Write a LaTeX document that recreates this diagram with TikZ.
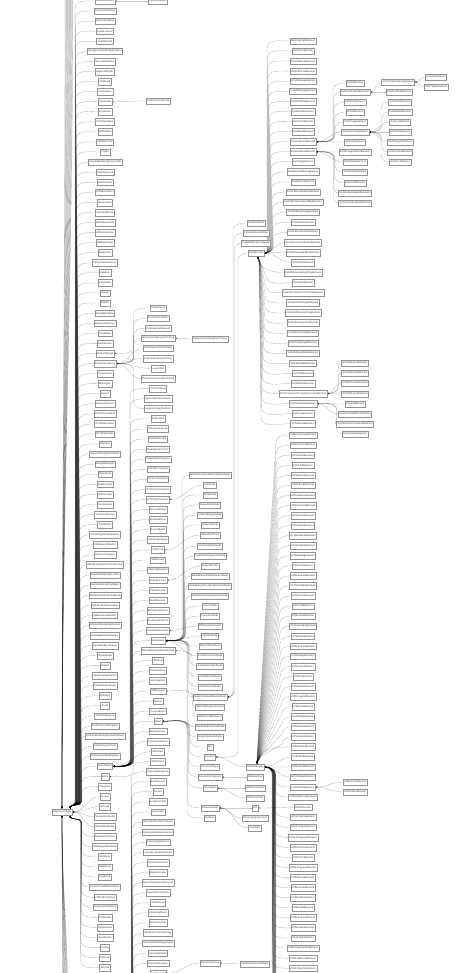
\documentclass[tikz,border=0pt]{standalone}
\usepackage{fontspec}
\setmainfont{Liberation Sans}
\usetikzlibrary{arrows.meta,calc}
\pgfdeclarelayer{back}\pgfdeclarelayer{bg}\pgfsetlayers{back,bg,main}
% edge: #1 child, #2 child y(px), #3 bend x, #4 end x, #5 target, #6 target y(px), #7 in-angle
\newcommand\edg[7]{%
  \pgfmathsetmacro\eddy{(#6)-(#2)}%
  \pgfmathsetmacro\edab{abs(\eddy)}%
  \ifdim\edab pt<18pt\relax
    \draw[ed] (#1.west) to[out=180,in=#7] (#5);%
  \else
    \ifdim\eddy pt>0pt\relax
      \draw[ed] (#1.west) to[out=180,in=90] (#3,{-(#2)-7}) -- (#4,{-(#6)+7}) to[out=-90,in=#7] (#5);%
    \else
      \draw[ed] (#1.west) to[out=180,in=-90] (#3,{-(#2)+7}) -- (#4,{-(#6)-7}) to[out=90,in=#7] (#5);%
    \fi
  \fi}
\begin{document}
\begin{tikzpicture}[x=1pt,y=1pt,
  nd/.style={draw=black!42, line width=0.35pt, fill=white, inner xsep=1pt, inner ysep=0pt,
    minimum height=6.6pt, text=black!78, font=\fontsize{2.5}{3}\selectfont},
  ed/.style={draw=black, draw opacity=0.3, line width=0.3pt, -{Stealth[length=2pt,width=1.6pt]}}]
\begin{pgfonlayer}{back}\fill[white] (0,0) rectangle (467,-973);\end{pgfonlayer}
\useasboundingbox (0,0) rectangle (467,-973);

% ---------- root ----------
\node[nd] (R) at (62,-812) {Object.prototype};
\coordinate (Rne) at ($(R.north east)+(-2,0)$);
\coordinate (Rse) at ($(R.south east)+(-2,0)$);

% ---------- column B ----------
\foreach \lab [count=\k from 0] in {AnimationEffect,AnimationTimeline,AudioParamMap,AudioListener,AudioWorklet,BackgroundFetchRegistration,BarcodeDetector,BluetoothUUID,Clipboard,CookieStore,Credential,CryptoKey,CSSStyleSheet,DOMMatrix,DOMRectList,Crypto,CanvasRenderingContext2D,DOMTokenList,DataTransfer,DOMException,Geolocation,GamepadPose,GPUAdapterInfo,HTMLCollection,IDBKeyRange,IDBFactory,IntersectionObserver,Headers,ImageData,History,Path2D,MediaMetadata,MutationObserver,NodeFilter,NodeIterator,AbstractRange,PerformanceEntry,Permissions,MimeType,Report,ResizeObserver,RTCIceCandidate,RTCRtpReceiver,RTCRtpSender,Selection,SpeechRecognitionResult,StorageManager,StyleSheet,SubtleCrypto,TextDecoder,TimeRanges,TransformStream,TreeWalker,TrustedTypePolicyFactory,URLSearchParams,VideoColorSpace,WebGLShaderPrecisionFormat,WebGLRenderingContext,WebGLVertexArrayObject,WebGLTransformFeedback,WebGLUniformLocation,WebGLRenderbuffer,WebGL2RenderingContext,ReadableStreamReader,ReadableByteStream,XPathResult,Worklet,SpeechGrammarList,SVGAnimatedAngle,SVGRect,Touch,TextTrackCueList,PerformanceNavigation,PerformanceLongAnimationFrame,PerformanceTiming,PerformanceMarkOptions,EventTarget,Event,Navigator,Screen,Storage,NavigatorUAData,NamedNodeMap,MediaKeySession,MediaKeyStatusMap,MediaList,MediaKeys,Keyboard,IntersectionObserverEntry,HTMLAllCollection,FileSystemFileEntry,FileReader,CSSRuleList,Coordinates,Cache,BarProp,Atomics}{%
  \pgfmathsetmacro\yy{1+10.07*\k}%
  \node[nd] (b\k) at (105,-\yy) {\lab};}
\node[nd] (kf) at (158,-1) {KeyframeEffect};
\node[nd] (pk) at (158,-101) {PublicKeyCredential};

% ---------- column C ----------
\foreach \lab [count=\j from 0] in {StaticRange,PerformanceMark,PerformanceMeasure,PerformanceResourceTiming,PerformancePaintTiming,PerformanceEventTiming,LayoutShift,PerformanceLongTaskTiming,TextTrackCue,SpeechSynthesisVoice,LargestContentfulPaint,Notification,OffscreenCanvas,MediaRecorder,MediaStreamTrack,PresentationRequest,RTCDtlsTransport,RTCIceTransport,RTCPeerConnection,RTCSctpTransport,ServiceWorker,SharedWorker,SourceBuffer,SpeechSynthesis,TextTrack,WebSocket,XMLHttpRequest,VideoDecoder,VideoEncoder,AudioDecoder,BackgroundFetch,BroadcastChannel,BaseAudioContext,AudioNode,XMLHttpRequestEventTarget,Window,MediaSource,MessagePort,IDBRequest,Worker,CustomEvent,Node,MediaDevices,PermissionStatus,MIDIInput,MIDIOutput,PaymentResponse,EventSource,Sensor,Accelerometer,Gyroscope,AbsoluteOrientationSensor,RelativeOrientationSensor,AmbientLightSensor,LinearAccelerationSensor,OrientationSensor,Magnetometer,SpeechSynthesisUtterance,SpeechRecognition,USBDevice,VirtualKeyboard,VisualViewport,WindowControlsOverlay,ServiceWorkerRegistration,ScreenDetailed,ScreenOrientation,FontFaceSet}{%
  \pgfmathsetmacro\yy{308+10.08*\j}%
  \node[nd] (c\j) at (158,-\yy) {\lab};}
\node[nd] (cr) at (210,-339) {PerformanceNavigationTiming};
\coordinate (cgh) at (127,-1040);

% ---------- column D ----------
\node[nd] (d475) at (210,-475) {MediaStreamAudioDestinationNode};
\node[nd] (d485) at (210,-485) {GainNode};
\node[nd] (d495) at (210,-495) {DelayNode};
\node[nd] (d505) at (210,-505) {BiquadFilterNode};
\node[nd] (d515) at (210,-515) {ChannelMergerNode};
\node[nd] (d525) at (210,-525) {AnalyserNode};
\node[nd] (d535) at (210,-535) {InbandTextTrack};
\node[nd] (d546) at (210,-546) {ChannelSplitterNode};
\node[nd] (d556) at (210,-556) {DynamicsCompressorNode};
\node[nd] (d566) at (210,-566) {ImageDecoder};
\node[nd] (d576) at (210,-576) {MediaElementAudioSourceNode};
\node[nd] (d586) at (210,-586) {MediaStreamTrackAudioSourceNode};
\node[nd] (d596) at (210,-596) {MediaStreamAudioSourceNode};
\node[nd] (d606) at (210,-606) {PannerNode};
\node[nd] (d616) at (210,-616) {ConvolverNode};
\node[nd] (d626) at (210,-626) {OfflineAudioContext};
\node[nd] (d636) at (210,-636) {IIRFilterNode};
\node[nd] (d646) at (210,-646) {WaveShaperNode};
\node[nd] (d656) at (210,-656) {ScriptProcessorNode};
\node[nd] (d666) at (210,-666) {AudioDestinationNode};
\node[nd] (d677) at (210,-677) {AudioWorkletNode};
\node[nd] (d687) at (210,-687) {StereoPannerNode};
\node[nd] (d697) at (210,-697) {AudioScheduledSourceNode};
\node[nd] (d707) at (210,-707) {XMLHttpRequestUpload};
\node[nd] (d717) at (210,-717) {IDBOpenDBRequest};
\node[nd] (d727) at (210,-727) {WebKitAudioPannerNode};
\node[nd] (d737) at (210,-737) {JavaScriptAudioNode};
\node[nd] (d747) at (210,-747) {Attr};
\node[nd] (d757) at (210,-757) {Element};
\node[nd] (d767) at (210,-767) {DocumentType};
\node[nd] (d777) at (210,-777) {DocumentFragment};
\node[nd] (d788) at (210,-788) {Document};
\node[nd] (d808) at (210,-808) {CharacterData};
\node[nd] (d818) at (210,-818) {Notation};
\node[nd] (d963) at (210,-963) {FontFaceSource};

% ---------- column E (left) ----------
\node[nd] (e223) at (256,-223) {OscillatorNode};
\node[nd] (e233) at (256,-233) {ConstantSourceNode};
\node[nd] (e243) at (256,-243) {AudioBufferSourceNode};
\node[nd] (sv) at (256,-253) {SVGElement};
\node[nd] (he) at (255,-767) {HTMLElement};
\node[nd] (e777) at (255,-777) {ShadowRoot};
\node[nd] (e788) at (255,-788) {HTMLDocument};
\node[nd] (e798) at (255,-798) {XMLDocument};
\node[nd] (tx) at (255,-808) {Text};
\node[nd] (e818) at (255,-818) {ProcessingInstruction};
\node[nd] (e828) at (255,-828) {Comment};
\node[nd] (e964) at (255,-964) {FontFaceSetLoadTarget};
\coordinate (svS) at ($(sv.south)+(2,0)$);
\coordinate (hN) at ($(he.north)+(2,0)$);

% ---------- column E (SVG / HTML) ----------
\foreach \lab [count=\i from 0] in {SVGClipPathElement,SVGDescElement,SVGFEBlendElement,SVGFEFloodElement,SVGFEImageElement,SVGFEMergeElement,SVGFEOffsetElement,SVGFETileElement,SVGFilterElement,SVGMaskElement,SVGGraphicsElement,SVGGradientElement,SVGStopElement,SVGFEColorMatrixElement,SVGMarkerElement,SVGFEDropShadowElement,SVGFEDisplacementMapElement,SVGFEMorphologyElement,SVGPatternElement,SVGFECompositeElement,SVGFEConvolveMatrixElement,SVGFEGaussianBlurElement,SVGScriptElement,SVGFESpecularLightingElement,SVGStyleElement,SVGFEComponentTransferElement,SVGFEDistantLightElement,SVGFEDiffuseLightingElement,SVGFETurbulenceElement,SVGFEPointLightElement,SVGFESpotLightElement,SVGFEMergeNodeElement,SVGMetadataElement,SVGTitleElement,SVGMPathElement,SVGComponentTransferFunctionElement,SVGAnimationElement,SVGViewElement,SVGDiscardElement}{%
  \pgfmathsetmacro\yy{41+10.07*\i}%
  \node[nd] (s\i) at (303,-\yy) {\lab};}
\foreach \lab [count=\i from 0] in {HTMLUnknownElement,HTMLAnchorElement,HTMLAreaElement,HTMLBRElement,HTMLBaseElement,HTMLBodyElement,HTMLButtonElement,HTMLCanvasElement,HTMLDListElement,HTMLDataElement,HTMLDataListElement,HTMLDetailsElement,HTMLDialogElement,HTMLDivElement,HTMLEmbedElement,HTMLFieldSetElement,HTMLFormElement,HTMLHRElement,HTMLHeadElement,HTMLHeadingElement,HTMLHtmlElement,HTMLIFrameElement,HTMLImageElement,HTMLInputElement,HTMLLIElement,HTMLLabelElement,HTMLLegendElement,HTMLLinkElement,HTMLMapElement,HTMLMenuElement,HTMLMetaElement,HTMLMeterElement,HTMLModElement,HTMLOListElement,HTMLObjectElement,HTMLMediaElement,HTMLOptGroupElement,CDATASection,HTMLOptionElement,HTMLOutputElement,HTMLParagraphElement,HTMLPictureElement,HTMLPreElement,HTMLProgressElement,HTMLQuoteElement,HTMLScriptElement,HTMLSelectElement,HTMLSlotElement,HTMLSourceElement,HTMLSpanElement,HTMLStyleElement,HTMLTableCaptionElement,HTMLTableCellElement,HTMLTableColElement}{%
  \pgfmathsetmacro\yy{435+10.06*\i}%
  \node[nd] (h\i) at (303,-\yy) {\lab};}

% ---------- columns F, G, H ----------
\node[nd] (f83) at (355,-83) {SVGAElement};
\node[nd] (f92) at (355,-92) {SVGTextContentElement};
\node[nd] (f102) at (355,-102) {SVGDefsElement};
\node[nd] (f112) at (355,-112) {SVGGElement};
\node[nd] (f122) at (355,-122) {SVGImageElement};
\node[nd] (f132) at (355,-132) {SVGGeometryElement};
\node[nd] (f142) at (355,-142) {SVGUseElement};
\node[nd] (f152) at (355,-152) {SVGForeignObjectElement};
\node[nd] (f162) at (355,-162) {SVGSwitchElement};
\node[nd] (f172) at (355,-172) {SVGSymbolElement};
\node[nd] (f183) at (355,-183) {SVGSVGElement};
\node[nd] (f193) at (355,-193) {SVGRadialGradientElement};
\node[nd] (f203) at (355,-203) {SVGLinearGradientElement};
\node[nd] (f363) at (355,-363) {SVGFEFuncAElement};
\node[nd] (f373) at (355,-373) {SVGFEFuncBElement};
\node[nd] (f383) at (355,-383) {SVGFEFuncGElement};
\node[nd] (f394) at (355,-394) {SVGFEFuncRElement};
\node[nd] (f404) at (355,-404) {SVGSetElement};
\node[nd] (f414) at (355,-414) {SVGAnimateMotionElement};
\node[nd] (f424) at (355,-424) {SVGAnimateTransformElement};
\node[nd] (f434) at (355,-434) {SVGAnimateElement};
\node[nd] (f782) at (355,-782) {HTMLAudioElement};
\node[nd] (f792) at (355,-792) {HTMLVideoElement};
\node[nd] (g82) at (398,-82) {SVGTextPositioningElement};
\node[nd] (g92) at (399,-92) {SVGTextPathElement};
\node[nd] (g102) at (400,-102) {SVGCircleElement};
\node[nd] (g112) at (400,-112) {SVGEllipseElement};
\node[nd] (g122) at (400,-122) {SVGLineElement};
\node[nd] (g132) at (400,-132) {SVGPathElement};
\node[nd] (g142) at (400,-142) {SVGPolygonElement};
\node[nd] (g152) at (400,-152) {SVGPolylineElement};
\node[nd] (g162) at (400,-162) {SVGRectElement};
\node[nd] (h77) at (436,-77) {SVGTextElement};
\node[nd] (h87) at (436,-87) {SVGTSpanElement};

% ================= edges =================
\begin{pgfonlayer}{bg}
\clip (0,0) rectangle (467,-973);
% root ghosts
\foreach \i in {0,...,13}{\coordinate (rt\i) at ({65+0.6*\i},15);
  \draw[ed] (rt\i) to[out=-90,in=90] (R.north);}
\foreach \i in {0,...,11}{\coordinate (rb\i) at ({62.5+0.5*\i},-1010);
  \draw[ed] (rb\i) to[out=90,in=-90] (R.south);}
% B -> root
\foreach \k in {0,...,96}{%
  \pgfmathsetmacro\yy{1+10.07*\k}%
  \pgfmathsetmacro\dd{abs(\yy-812)}%
  \pgfmathsetmacro\xb{75+7*(1-\dd/820)}%
  \ifdim\dd pt<18pt\relax \draw[ed] (b\k.west) to[out=180,in=0] (R.east);%
  \else\ifdim\yy pt<812pt\relax \edg{b\k}{\yy}{\xb}{\xb}{Rne}{808.7}{90}%
  \else \edg{b\k}{\yy}{\xb}{\xb}{Rse}{815.3}{-90}\fi\fi}
\draw[ed] (kf.west) to[out=180,in=0] (b0.east);
\draw[ed] (pk.west) to[out=180,in=0] (b10.east);
% C -> B
\foreach \j in {0,...,66}{%
  \pgfmathsetmacro\yy{308+10.08*\j}%
  \def\tg{b76.east}\def\ty{766.32}\def\ta{0}%
  \ifnum\j=0 \def\tg{b35.east}\def\ty{353.45}\fi
  \ifnum\j>0 \ifnum\j<8 \def\tg{b36.east}\def\ty{363.52}\fi\fi
  \ifnum\j=10 \def\tg{b36.east}\def\ty{363.52}\fi
  \ifnum\j=40 \def\tg{b77.east}\def\ty{776.39}\fi
  \ifnum\j>45 \def\tg{cgh}\def\ty{1040}\def\ta{90}\fi
  \pgfmathsetmacro\dd{abs(\yy-\ty)}%
  \pgfmathsetmacro\xb{129+5*(1-\dd/470)}%
  \edg{c\j}{\yy}{\xb}{\xb}{\tg}{\ty}{\ta}}
\draw[ed] (cr.west) to[out=180,in=0] (c3.east);
% D -> C
\edg{d475}{475}{182}{182}{c33.east}{640.6}{0}
\edg{d485}{485}{180}{180}{c19.east}{499.5}{0}
\edg{d495}{495}{183}{183}{c33.east}{640.6}{0}
\edg{d505}{505}{183.2}{183.2}{c33.east}{640.6}{0}
\edg{d515}{515}{183.4}{183.4}{c33.east}{640.6}{0}
\edg{d525}{525}{183.6}{183.6}{c33.east}{640.6}{0}
\edg{d535}{535}{180}{180}{c24.east}{549.9}{0}
\edg{d546}{546}{183.9}{183.9}{c33.east}{640.6}{0}
\edg{d556}{556}{184.2}{184.2}{c33.east}{640.6}{0}
\edg{d566}{566}{180}{180}{c27.east}{580.2}{0}
\edg{d576}{576}{184.5}{184.5}{c33.east}{640.6}{0}
\edg{d586}{586}{184.8}{184.8}{c33.east}{640.6}{0}
\edg{d596}{596}{185}{185}{c33.east}{640.6}{0}
\edg{d606}{606}{185.3}{185.3}{c33.east}{640.6}{0}
\edg{d616}{616}{185.6}{185.6}{c33.east}{640.6}{0}
\edg{d626}{626}{180}{180}{c32.east}{630.6}{0}
\edg{d636}{636}{188}{188}{c33.east}{640.6}{0}
\edg{d646}{646}{188}{188}{c33.east}{640.6}{0}
\edg{d656}{656}{188}{188}{c33.east}{640.6}{0}
\edg{d666}{666}{189.5}{189.5}{c33.east}{640.6}{0}
\edg{d677}{677}{189}{189}{c33.east}{640.6}{0}
\edg{d687}{687}{188.5}{188.5}{c33.east}{640.6}{0}
\edg{d697}{697}{188}{188}{c33.east}{640.6}{0}
\edg{d707}{707}{192}{192}{c34.east}{650.7}{0}
\edg{d717}{717}{193}{193}{c38.east}{691.0}{0}
\edg{d727}{727}{187.5}{187.5}{c33.east}{640.6}{0}
\edg{d737}{737}{187}{187}{c33.east}{640.6}{0}
\edg{d747}{747}{190}{190}{c41.east}{721.3}{0}
\edg{d757}{757}{189.5}{189.5}{c41.east}{721.3}{0}
\edg{d767}{767}{189}{189}{c41.east}{721.3}{0}
\edg{d777}{777}{188.5}{188.5}{c41.east}{721.3}{0}
\edg{d788}{788}{188}{188}{c41.east}{721.3}{0}
\edg{d808}{808}{187.5}{187.5}{c41.east}{721.3}{0}
\edg{d818}{818}{187}{187}{c41.east}{721.3}{0}
\draw[ed] (d963.west) to[out=180,in=0] (c66.east);
% E-left -> D
\edg{e223}{223}{233}{233}{d697.east}{697}{0}
\edg{e233}{233}{234}{234}{d697.east}{697}{0}
\edg{e243}{243}{235}{235}{d697.east}{697}{0}
\edg{sv}{253}{238}{238}{d757.east}{757}{0}
\draw[ed] (he.west) to[out=180,in=0] (d757.east);
\draw[ed] (e777.west) to[out=180,in=0] (d777.east);
\draw[ed] (e788.west) to[out=180,in=0] (d788.east);
\draw[ed] (e798.west) to[out=180,in=0] (d788.east);
\draw[ed] (tx.west) to[out=180,in=0] (d808.east);
\draw[ed] (e818.west) to[out=180,in=0] (d808.east);
\draw[ed] (e828.west) to[out=180,in=0] (d808.east);
\draw[ed] (e964.west) to[out=180,in=0] (d963.east);
% SVG -> SVGElement
\foreach \i in {0,...,38}{%
  \pgfmathsetmacro\yy{41+10.07*\i}%
  \pgfmathsetmacro\dd{abs(\yy-253)}%
  \ifdim\dd pt<18pt\relax \draw[ed] (s\i.west) to[out=180,in=0] (sv.east);%
  \else\ifdim\yy pt<253pt\relax
    \pgfmathsetmacro\xb{267+7*(1-\dd/212)}%
    \edg{s\i}{\yy}{\xb}{\xb}{sv.east}{253}{0}%
  \else
    \pgfmathsetmacro\xb{261+6*(1-\dd/171)}%
    \pgfmathsetmacro\xt{259+2*(1-\dd/171)}%
    \edg{s\i}{\yy}{\xb}{\xt}{svS}{256.3}{-90}%
  \fi\fi}
% HTML -> HTMLElement
\foreach \i in {0,...,13}{\coordinate (hg\i) at ({272.6+0.25*\i},-1010);
  \draw[ed] (hg\i) -- ({272.6+0.25*\i},-775) to[out=90,in=0] (he.east);}
\foreach \i in {0,...,53}{%
  \pgfmathsetmacro\yy{435+10.06*\i}%
  \pgfmathsetmacro\dd{abs(\yy-767)}%
  \ifnum\i=37 \draw[ed] (h\i.west) to[out=180,in=0] (tx.east);%
  \else
    \ifdim\dd pt<18pt\relax \draw[ed] (h\i.west) to[out=180,in=0] (he.east);%
    \else\ifdim\yy pt<767pt\relax
      \pgfmathsetmacro\xb{276+7*(1-\dd/332)}%
      \pgfmathsetmacro\xt{257+4*(1-\dd/332)}%
      \edg{h\i}{\yy}{\xb}{\xt}{hN}{763.7}{90}%
    \else
      \pgfmathsetmacro\xb{272+4*(1-\dd/202)}%
      \edg{h\i}{\yy}{\xb}{\xb}{he.east}{767}{0}%
    \fi\fi
  \fi}
% F -> E
\edg{f83}{83}{333}{333}{s10.east}{141.7}{0}
\edg{f92}{92}{333.5}{333.5}{s10.east}{141.7}{0}
\edg{f102}{102}{334}{334}{s10.east}{141.7}{0}
\edg{f112}{112}{334.5}{334.5}{s10.east}{141.7}{0}
\edg{f122}{122}{335}{335}{s10.east}{141.7}{0}
\draw[ed] (f132.west) to[out=180,in=0] (s10.east);
\draw[ed] (f142.west) to[out=180,in=0] (s10.east);
\draw[ed] (f152.west) to[out=180,in=0] (s11.east);
\draw[ed] (f162.west) to[out=180,in=0] (s11.east);
\edg{f172}{172}{335}{335}{s11.east}{151.8}{0}
\edg{f183}{183}{334.5}{334.5}{s11.east}{151.8}{0}
\edg{f193}{193}{334}{334}{s11.east}{151.8}{0}
\edg{f203}{203}{333.5}{333.5}{s11.east}{151.8}{0}
\edg{f363}{363}{338}{338}{s35.east}{393.5}{0}
\edg{f373}{373}{338.5}{338.5}{s35.east}{393.5}{0}
\draw[ed] (f383.west) to[out=180,in=0] (s35.east);
\draw[ed] (f394.west) to[out=180,in=0] (s35.east);
\draw[ed] (f404.west) to[out=180,in=0] (s36.east);
\draw[ed] (f414.west) to[out=180,in=0] (s36.east);
\edg{f424}{424}{337}{337}{s36.east}{403.5}{0}
\edg{f434}{434}{336.5}{336.5}{s36.east}{403.5}{0}
\draw[ed] (f782.west) to[out=180,in=0] (h35.east);
\draw[ed] (f792.west) to[out=180,in=0] (h35.east);
% G, H
\draw[ed] (g82.west) to[out=180,in=0] (f92.east);
\draw[ed] (g92.west) to[out=180,in=0] (f92.east);
\edg{g102}{102}{381}{381}{f132.east}{132}{0}
\edg{g112}{112}{382}{382}{f132.east}{132}{0}
\draw[ed] (g122.west) to[out=180,in=0] (f132.east);
\draw[ed] (g132.west) to[out=180,in=0] (f132.east);
\draw[ed] (g142.west) to[out=180,in=0] (f132.east);
\edg{g152}{152}{382}{382}{f132.east}{132}{0}
\edg{g162}{162}{381}{381}{f132.east}{132}{0}
\draw[ed] (h77.west) to[out=180,in=0] (g82.east);
\draw[ed] (h87.west) to[out=180,in=0] (g82.east);
\end{pgfonlayer}
\end{tikzpicture}
\end{document}
